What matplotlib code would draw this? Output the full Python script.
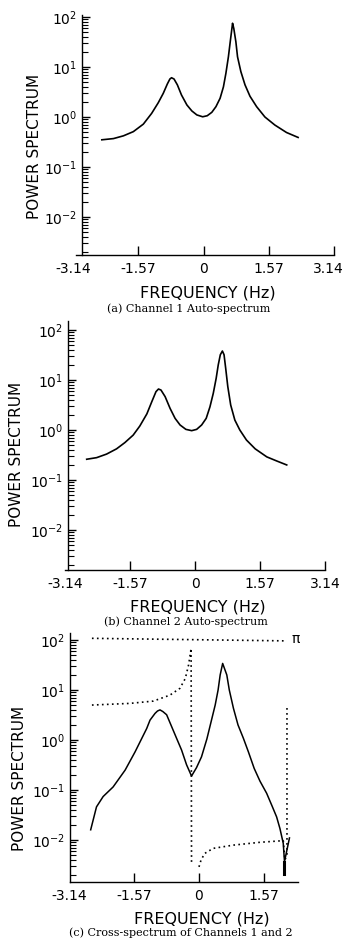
import matplotlib.pyplot as plt
from matplotlib.ticker import LogLocator, NullFormatter, FixedLocator, FixedFormatter
from matplotlib.transforms import ScaledTranslation

# (a) Channel 1 auto-spectrum
freq_a = [-2.45, -2.17, -1.93, -1.69, -1.45, -1.25, -1.09, -0.97, -0.87, -0.81,
          -0.77, -0.71, -0.63, -0.53, -0.40, -0.28, -0.16, -0.02, 0.09, 0.20,
          0.30, 0.40, 0.48, 0.54, 0.60, 0.65, 0.69, 0.70, 0.73, 0.78,
          0.82, 0.90, 1.00, 1.12, 1.28, 1.48, 1.72, 2.00, 2.28]
psd_a = [0.35, 0.37, 0.42, 0.51, 0.72, 1.18, 1.93, 2.97, 4.6, 5.75,
         6.1, 5.75, 4.4, 2.75, 1.74, 1.32, 1.1, 1.01, 1.06, 1.24,
         1.61, 2.37, 4.0, 7.5, 16, 35, 64, 75, 59, 32,
         16, 8.1, 4.4, 2.6, 1.61, 1.0, 0.69, 0.49, 0.39]

# (b) Channel 2 auto-spectrum
freq_b = [-2.61, -2.37, -2.13, -1.89, -1.69, -1.49, -1.33, -1.16, -1.04, -0.94,
          -0.88, -0.82, -0.72, -0.60, -0.48, -0.36, -0.22, -0.08, 0.04, 0.16,
          0.27, 0.36, 0.44, 0.51, 0.56, 0.61, 0.66, 0.70, 0.74, 0.79,
          0.86, 0.96, 1.08, 1.24, 1.45, 1.73, 1.97, 2.21]
psd_b = [0.26, 0.28, 0.33, 0.42, 0.56, 0.79, 1.2, 2.1, 3.7, 5.85,
         6.6, 6.3, 4.65, 2.7, 1.71, 1.26, 1.03, 0.97, 1.03, 1.26,
         1.71, 2.9, 5.4, 10.8, 20, 32, 38, 32, 17, 7.4,
         3.16, 1.58, 1.0, 0.63, 0.42, 0.29, 0.24, 0.2]

# (c) cross-spectrum magnitude
freq_c = [-2.61, -2.47, -2.31, -2.07, -1.78, -1.54, -1.26, -1.18, -1.06, -1.0,
          -0.94, -0.87, -0.78, -0.54, -0.42, -0.30, -0.18, -0.06, 0.06, 0.19,
          0.39, 0.46, 0.51, 0.57, 0.67, 0.73, 0.83, 0.94, 1.07, 1.19,
          1.33, 1.47, 1.63, 1.76, 1.87, 1.95, 2.03, 2.06, 2.18]
cross_c = [0.016, 0.046, 0.074, 0.115, 0.25, 0.58, 1.7, 2.5, 3.4, 3.8,
           4.0, 3.7, 3.2, 1.08, 0.63, 0.32, 0.19, 0.28, 0.46, 1.05,
           5.0, 10, 20, 34, 20, 10, 4.3, 2.0, 1.08, 0.58,
           0.27, 0.15, 0.086, 0.048, 0.029, 0.017, 0.0086, 0.0037, 0.011]
bar_f = [2.06, 2.06]
bar_v = [0.0037, 0.0021]

# (c) phase (dotted)
phase_top_f = [-2.58, 2.11]
phase_top_v = [108, 96]
phase_left_f = [-2.58, -1.66, -1.10, -0.70, -0.46, -0.33, -0.25, -0.19, -0.18]
phase_left_v = [5.0, 5.4, 6.0, 7.9, 10.8, 17, 32, 68, 0.0032]
phase_low_f = [0.0, 0.05, 0.14, 0.34, 0.83, 1.47, 2.03, 2.07, 2.12, 2.12]
phase_low_v = [0.0029, 0.004, 0.0054, 0.0068, 0.0079, 0.009, 0.0097, 0.004, 0.005, 4.6]

tick_pos = [-3.14, -1.57, 0, 1.57, 3.14]
tick_lab = ["-3.14", "-1.57", "0", "1.57", "3.14"]
decades = [1e-2, 1e-1, 1e0, 1e1, 1e2]
decade_lab = [r"$10^{-2}$", r"$10^{-1}$", r"$10^{0}$", r"$10^{1}$", r"$10^{2}$"]

W, H = 346, 942
SCALE = 41.5  # px per unit frequency on the scan
fig = plt.figure(figsize=(W / 100, H / 100), dpi=100)


def fx(px):
    return px / W


def fy(py):
    return 1 - py / H


def make_axes(zero_px, y_bottom, y_one, y_top, spine_f, bounds, nticks):
    left = zero_px - 3.4 * SCALE
    ax = fig.add_axes([fx(left), fy(y_bottom), 6.8 * SCALE / W, (y_bottom - y_top) / H])
    ax.set_xlim(-3.4, 3.4)
    ax.set_yscale("log")
    # 50 px per decade
    ax.set_ylim(10 ** ((y_one - y_bottom) / 50), 10 ** ((y_one - y_top) / 50))
    for s in ["top", "right"]:
        ax.spines[s].set_visible(False)
    ax.spines["left"].set_position(("data", spine_f))
    ax.spines["bottom"].set_bounds(*bounds)
    for s in ["left", "bottom"]:
        ax.spines[s].set_linewidth(1.0)
    ax.xaxis.set_major_locator(FixedLocator(tick_pos[:nticks]))
    ax.xaxis.set_major_formatter(FixedFormatter(tick_lab[:nticks]))
    ax.yaxis.set_major_locator(FixedLocator(decades))
    ax.yaxis.set_major_formatter(FixedFormatter(decade_lab))
    ax.yaxis.set_minor_locator(LogLocator(base=10, subs=range(2, 10)))
    ax.yaxis.set_minor_formatter(NullFormatter())
    ax.tick_params(axis="x", direction="in", length=6.5, width=1.0, pad=5, labelsize=10)
    ax.tick_params(axis="y", which="major", direction="in", length=6, width=1.0,
                   pad=3.5, labelsize=10)
    ax.tick_params(axis="y", which="minor", direction="in", length=4, width=0.8)
    ax.xaxis.get_major_ticks()[0].tick1line.set_visible(False)
    return ax


def label_panel(ylab_xy, xlab_xy, cap_xy, caption):
    fig.text(fx(ylab_xy[0]), fy(ylab_xy[1]), "POWER SPECTRUM", rotation=90,
             ha="center", va="center", fontsize=11)
    fig.text(fx(xlab_xy[0]), fy(xlab_xy[1]), "FREQUENCY (Hz)",
             ha="center", va="center", fontsize=11.5)
    fig.text(fx(cap_xy[0]), fy(cap_xy[1]), caption, ha="center", va="center",
             fontsize=8.0, family="DejaVu Serif")


# (a)
ax1 = make_axes(203.5, 255, 117, 15, -2.93, (-3.07, 3.14), 5)
ax1.plot(freq_a, psd_a, color="black", lw=1.2)
label_panel((35, 146), (208, 293), (189, 309), "(a) Channel 1 Auto-spectrum")
# the scan's last label sits a little left of its tick
last = ax1.xaxis.get_major_ticks()[-1].label1
last.set_transform(last.get_transform() + ScaledTranslation(-5 / 100, 0, fig.dpi_scale_trans))

# (b)
ax2 = make_axes(195, 570, 430, 321, -3.06, (-3.13, 3.14), 5)
ax2.plot(freq_b, psd_b, color="black", lw=1.2)
label_panel((17, 454), (198, 607), (186, 622), "(b) Channel 2 Auto-spectrum")

# (c)
ax3 = make_axes(199, 882, 740, 633, -3.11, (-3.11, 2.39), 4)
ax3.plot(freq_c, cross_c, color="black", lw=1.1)
ax3.plot(bar_f, bar_v, color="black", lw=2.2)
dots = (0, (1, 2))
ax3.plot(phase_top_f, phase_top_v, color="black", lw=1.2, ls=dots)
ax3.plot(phase_left_f, phase_left_v, color="black", lw=1.2, ls=dots)
ax3.plot(phase_low_f, phase_low_v, color="black", lw=1.2, ls=dots)
ax3.text(2.22, 105, "π", ha="left", va="center", fontsize=10)
label_panel((20, 778), (202, 919), (181, 933), "(c) Cross-spectrum of Channels 1 and 2")

fig.savefig("out.png", dpi=100)
